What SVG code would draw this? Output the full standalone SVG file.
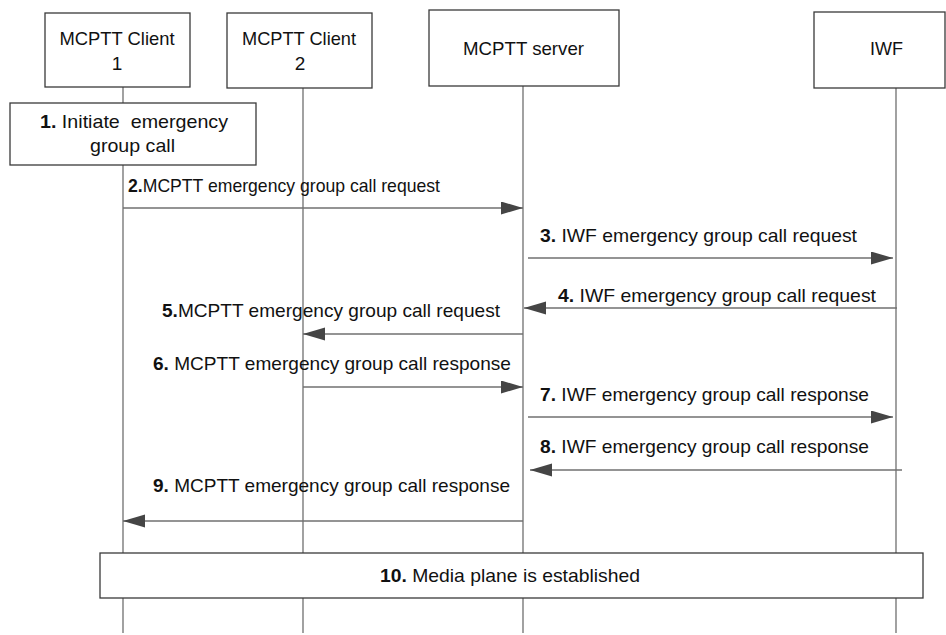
<svg xmlns="http://www.w3.org/2000/svg" width="946" height="635" viewBox="0 0 946 635">
<style>
.box{fill:#fff;stroke:#3a3a3a;stroke-width:1.3}
.life{stroke:#7a7a7a;stroke-width:1.4;fill:none}
.msg{stroke:#707070;stroke-width:1.4;fill:none;marker-end:url(#ah)}
text{font-family:"Liberation Sans",Arial,sans-serif;font-size:19px;fill:#111}
.c{text-anchor:middle}
.b{font-weight:bold}
</style>
<defs>
<marker id="ah" markerUnits="userSpaceOnUse" markerWidth="24" markerHeight="14" refX="22" refY="6.5" orient="auto">
<path d="M0,0 L22,6.5 L0,13 z" fill="#454545"/>
</marker>
</defs>
<rect width="946" height="635" fill="#fff"/>
<g id="lifelines">
<line class="life" x1="123" y1="87" x2="123" y2="633"/>
<line class="life" x1="303" y1="88" x2="303" y2="633"/>
<line class="life" x1="523" y1="86" x2="523" y2="633"/>
<line class="life" x1="896" y1="88" x2="896" y2="633" stroke="#444"/>
</g>
<g id="client1">
<rect class="box" x="45" y="13" width="145" height="74"/>
<text x="117" y="45" class="c" textLength="115" lengthAdjust="spacingAndGlyphs">MCPTT Client</text>
<text x="117" y="70" class="c">1</text>
</g>
<g id="client2">
<rect class="box" x="227" y="13" width="145" height="75"/>
<text x="299" y="45" class="c" textLength="114" lengthAdjust="spacingAndGlyphs">MCPTT Client</text>
<text x="300" y="70" class="c">2</text>
</g>
<g id="server">
<rect class="box" x="429" y="10" width="190" height="76"/>
<text x="523.5" y="55" class="c" textLength="121" lengthAdjust="spacingAndGlyphs">MCPTT server</text>
</g>
<g id="iwf">
<rect class="box" x="814" y="12" width="131" height="76"/>
<text x="886.5" y="55" class="c" textLength="33" lengthAdjust="spacingAndGlyphs">IWF</text>
</g>
<g id="step1">
<rect class="box" x="10" y="103" width="246" height="62"/>
<text x="40" y="128" textLength="188" lengthAdjust="spacingAndGlyphs" xml:space="preserve"><tspan class="b">1.</tspan> Initiate  emergency</text>
<text x="90" y="152" textLength="85" lengthAdjust="spacingAndGlyphs">group call</text>
</g>
<g id="connectors">
<line class="msg" x1="123" y1="208" x2="523" y2="208"/>
<line class="msg" x1="528" y1="258" x2="893" y2="258"/>
<line class="msg" x1="897" y1="308" x2="524" y2="308"/>
<line class="msg" x1="523" y1="334" x2="303" y2="334"/>
<line class="msg" x1="303" y1="387" x2="523" y2="387"/>
<line class="msg" x1="528" y1="417" x2="893" y2="417"/>
<line class="msg" x1="902" y1="470" x2="530" y2="470"/>
<line class="msg" x1="523" y1="521" x2="123" y2="521"/>
</g>
<g id="labels">
<text x="128" y="192" textLength="312" lengthAdjust="spacingAndGlyphs"><tspan class="b">2.</tspan>MCPTT emergency group call request</text>
<text x="540" y="242" textLength="317" lengthAdjust="spacingAndGlyphs"><tspan class="b">3.</tspan> IWF emergency group call request</text>
<text x="558" y="302" textLength="318" lengthAdjust="spacingAndGlyphs"><tspan class="b">4.</tspan> IWF emergency group call request</text>
<text x="162" y="317" textLength="338" lengthAdjust="spacingAndGlyphs"><tspan class="b">5.</tspan>MCPTT emergency group call request</text>
<text x="153" y="370" textLength="358" lengthAdjust="spacingAndGlyphs"><tspan class="b">6.</tspan> MCPTT emergency group call response</text>
<text x="540" y="401" textLength="329" lengthAdjust="spacingAndGlyphs"><tspan class="b">7.</tspan> IWF emergency group call response</text>
<text x="540" y="453" textLength="329" lengthAdjust="spacingAndGlyphs"><tspan class="b">8.</tspan> IWF emergency group call response</text>
<text x="153" y="492" textLength="357" lengthAdjust="spacingAndGlyphs"><tspan class="b">9.</tspan> MCPTT emergency group call response</text>
</g>
<g id="step10">
<rect class="box" x="100" y="553" width="823" height="45"/>
<text x="380" y="582" textLength="260" lengthAdjust="spacingAndGlyphs"><tspan class="b">10.</tspan> Media plane is established</text>
</g>
</svg>
